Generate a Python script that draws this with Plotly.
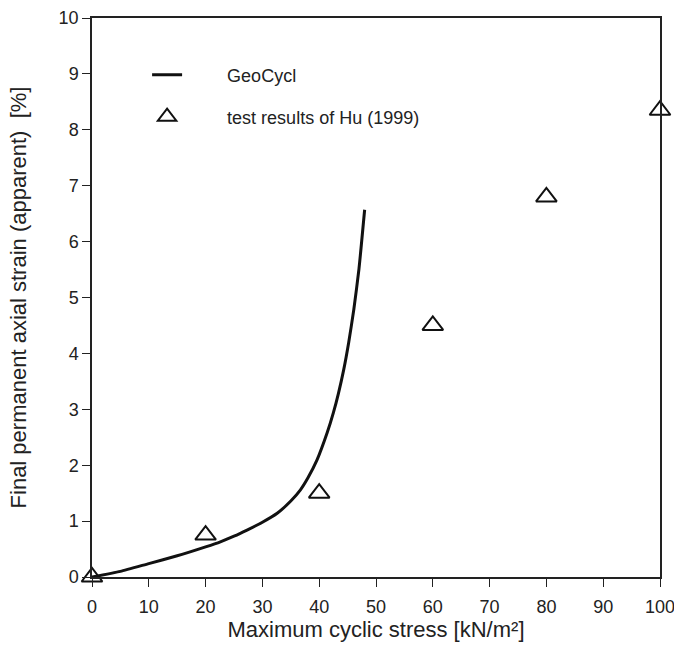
import plotly.graph_objects as go

# GeoCycl model curve
curve_x = [0, 5, 10, 15, 20, 22.6, 25, 27.3, 30, 32.6, 35, 36.7, 38, 39.6, 41.4, 42.5, 43.4, 44.3, 45.2, 46.1, 47, 48]
curve_y = [0, 0.1, 0.24, 0.38, 0.54, 0.63, 0.73, 0.84, 0.98, 1.14, 1.36, 1.56, 1.77, 2.09, 2.58, 2.94, 3.29, 3.70, 4.20, 4.79, 5.51, 6.57]

# Test results of Hu (1999)
test_x = [0, 20, 40, 60, 80, 100]
test_y = [0, 0.75, 1.5, 4.5, 6.8, 8.35]

x_ticks = [0, 10, 20, 30, 40, 50, 60, 70, 80, 90, 100]
y_ticks = [0, 1, 2, 3, 4, 5, 6, 7, 8, 9, 10]

pad = "\u00a0" * 8

fig = go.Figure()
fig.add_trace(go.Scatter(
    x=curve_x, y=curve_y, mode="lines", name=pad + "GeoCycl",
    line=dict(color="#111111", width=3, shape="spline", smoothing=0.5),
    legend="legend",
))
fig.add_trace(go.Scatter(
    x=test_x, y=test_y, mode="markers", name=pad + "test results of Hu (1999)",
    marker=dict(symbol="triangle-up-open", size=18, color="#111111",
                line=dict(width=2, color="#111111")),
    cliponaxis=False,
    legend="legend2",
))

axis_common = dict(
    showgrid=False, zeroline=False, showline=True, linecolor="#222222",
    linewidth=1.5, mirror=True, ticks="outside", ticklen=8, tickwidth=1.3,
    tickcolor="#222222", automargin=False, ticklabeloverflow="allow",
    tickfont=dict(family="Liberation Sans, Arial", size=18, color="#222222"),
)

legend_common = dict(xanchor="left", yanchor="middle", bgcolor="rgba(0,0,0,0)",
                     font=dict(size=18, color="#222222"))

fig.update_layout(
    width=674, height=663,
    margin=dict(l=92, r=14, t=18, b=86),
    paper_bgcolor="white", plot_bgcolor="white",
    font=dict(family="Liberation Sans, Arial", color="#222222"),
    xaxis=dict(range=[0, 100], tickvals=x_ticks, ticktext=[str(v) for v in x_ticks],
               ticklabelstandoff=5,
               title=dict(text="Maximum cyclic stress [kN/m²]", font=dict(size=22), standoff=3),
               **axis_common),
    yaxis=dict(range=[0, 10], tickvals=y_ticks, ticktext=[str(v) for v in y_ticks],
               title=dict(text="Final permanent axial strain (apparent)  [%]", font=dict(size=22), standoff=26),
               **axis_common),
    legend=dict(x=0.097, y=0.898, **legend_common),
    legend2=dict(x=0.097, y=0.823, **legend_common),
    showlegend=True,
)

fig.write_html("out.html", config={"displayModeBar": False},
               post_script="document.body.style.margin='0';")
